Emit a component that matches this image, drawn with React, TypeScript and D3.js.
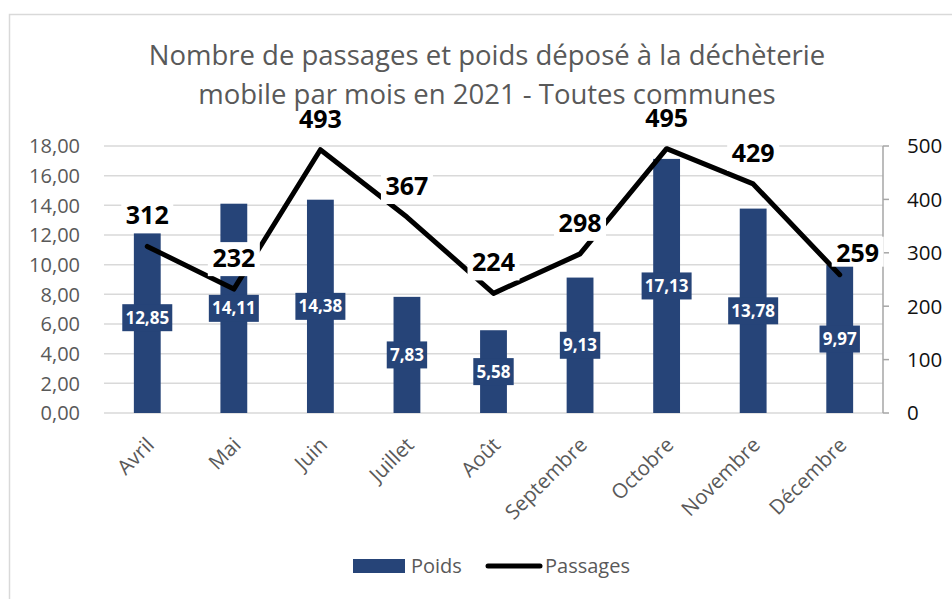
import React from "react";
import * as d3 from "d3";

const months = ["Avril", "Mai", "Juin", "Juillet", "Août", "Septembre", "Octobre", "Novembre", "Décembre"];
const poids = [12.85, 14.11, 14.38, 7.83, 5.58, 9.13, 17.13, 13.78, 9.97];
const passages = [312, 232, 493, 367, 224, 298, 495, 429, 259];
const leftTicks = [0, 2, 4, 6, 8, 10, 12, 14, 16, 18];
const rightTicks = [0, 100, 200, 300, 400, 500];
const titleLines = ["Nombre de passages et poids déposé à la déchèterie", "mobile par mois en 2021 - Toutes communes"];

const W = 952, H = 599;
const FONT = "'Open Sans', sans-serif";
const BLUE = "#264478";
const GRID = "#d9d9d9";
const GREY_TEXT = "#595959";

const fmt = (v: number) => v.toFixed(2).replace(".", ",");

export default function App() {
  const left = 104, right = 883, top = 146, bottom = 413;
  const x = d3.scaleBand<string>().domain(months).range([left, right]).paddingInner(0.69).paddingOuter(0.345);
  const xc = (m: string) => (x(m) as number) + x.bandwidth() / 2;
  const yL = d3.scaleLinear().domain([0, 18]).range([bottom, top]);
  const yR = d3.scaleLinear().domain([0, 500]).range([bottom, top]);
  const line = d3.line<number>().x((_, i) => xc(months[i])).y((d) => yR(d));

  return (
    <svg width={W} height={H} style={{ position: "absolute", left: 0, top: 0, background: "#fff" }} fontFamily={FONT}>
      <rect x={9.5} y={14.5} width={W + 20} height={H + 20} fill="#fff" stroke={GRID} strokeWidth={1.5} />
      {leftTicks.map((t) => (
        <g key={t}>
          <line x1={left} x2={right} y1={yL(t)} y2={yL(t)} stroke={GRID} strokeWidth={1.5} />
          <text x={80} y={yL(t)} dy="0.36em" textAnchor="end" fontSize={20} fill={GREY_TEXT}>{fmt(t)}</text>
        </g>
      ))}
      <line x1={right} x2={right} y1={top} y2={bottom} stroke="#a6a6a6" strokeWidth={1.5} />
      {rightTicks.map((t) => (
        <g key={t}>
          <line x1={right} x2={right + 6} y1={yR(t)} y2={yR(t)} stroke="#a6a6a6" strokeWidth={1.5} />
          <text x={907} y={yR(t)} dy="0.36em" textAnchor="start" fontSize={20.5} fill="#111">{t}</text>
        </g>
      ))}
      {months.map((m, i) => (
        <rect key={m} x={x(m)} y={yL(poids[i])} width={x.bandwidth()} height={bottom - yL(poids[i])} fill={BLUE} />
      ))}
      <path d={line(passages) || ""} fill="none" stroke="#000" strokeWidth={5} strokeLinejoin="round" strokeLinecap="round" />
      {months.map((m, i) => {
        const cy = yL(poids[i] / 2);
        const s = fmt(poids[i]);
        const w = s.length * 9.6 + 2;
        return (
          <g key={m}>
            <rect x={xc(m) - w / 2} y={cy - 13.5} width={w} height={27} fill={BLUE} />
            <text x={xc(m)} y={cy} dy="0.36em" textAnchor="middle" fontSize={17} fontWeight="bold" fill="#fff">{s}</text>
          </g>
        );
      })}
      {months.map((m, i) => {
        const last = i === months.length - 1;
        const cx = xc(m) + (last ? 18 : 0);
        const cy = yR(passages[i]) - (last ? 22 : 31);
        const w = 52;
        return (
          <g key={m}>
            <rect x={cx - w / 2} y={cy - 16} width={w} height={last ? 30 : 34} fill="#fff" />
            <text x={cx} y={cy} dy="0.36em" textAnchor="middle" fontSize={25} fontWeight="bold" fill="#000">{passages[i]}</text>
          </g>
        );
      })}
      {titleLines.map((t, i) => (
        <text key={i} x={487} y={65 + i * 39} textAnchor="middle" fontSize={27.5} fill={GREY_TEXT}>{t}</text>
      ))}
      {months.map((m) => (
        <text key={m} transform={`translate(${xc(m) + 3},${441}) rotate(-45)`} textAnchor="end" dy="0.36em" fontSize={20.5} fill={GREY_TEXT}>{m}</text>
      ))}
      <rect x={353} y={559} width={52} height={14} fill={BLUE} />
      <text x={411} y={573} fontSize={20} fill={GREY_TEXT}>Poids</text>
      <line x1={488} x2={540} y1={566} y2={566} stroke="#000" strokeWidth={5} strokeLinecap="round" />
      <text x={545} y={573} fontSize={20} fill={GREY_TEXT}>Passages</text>
    </svg>
  );
}
